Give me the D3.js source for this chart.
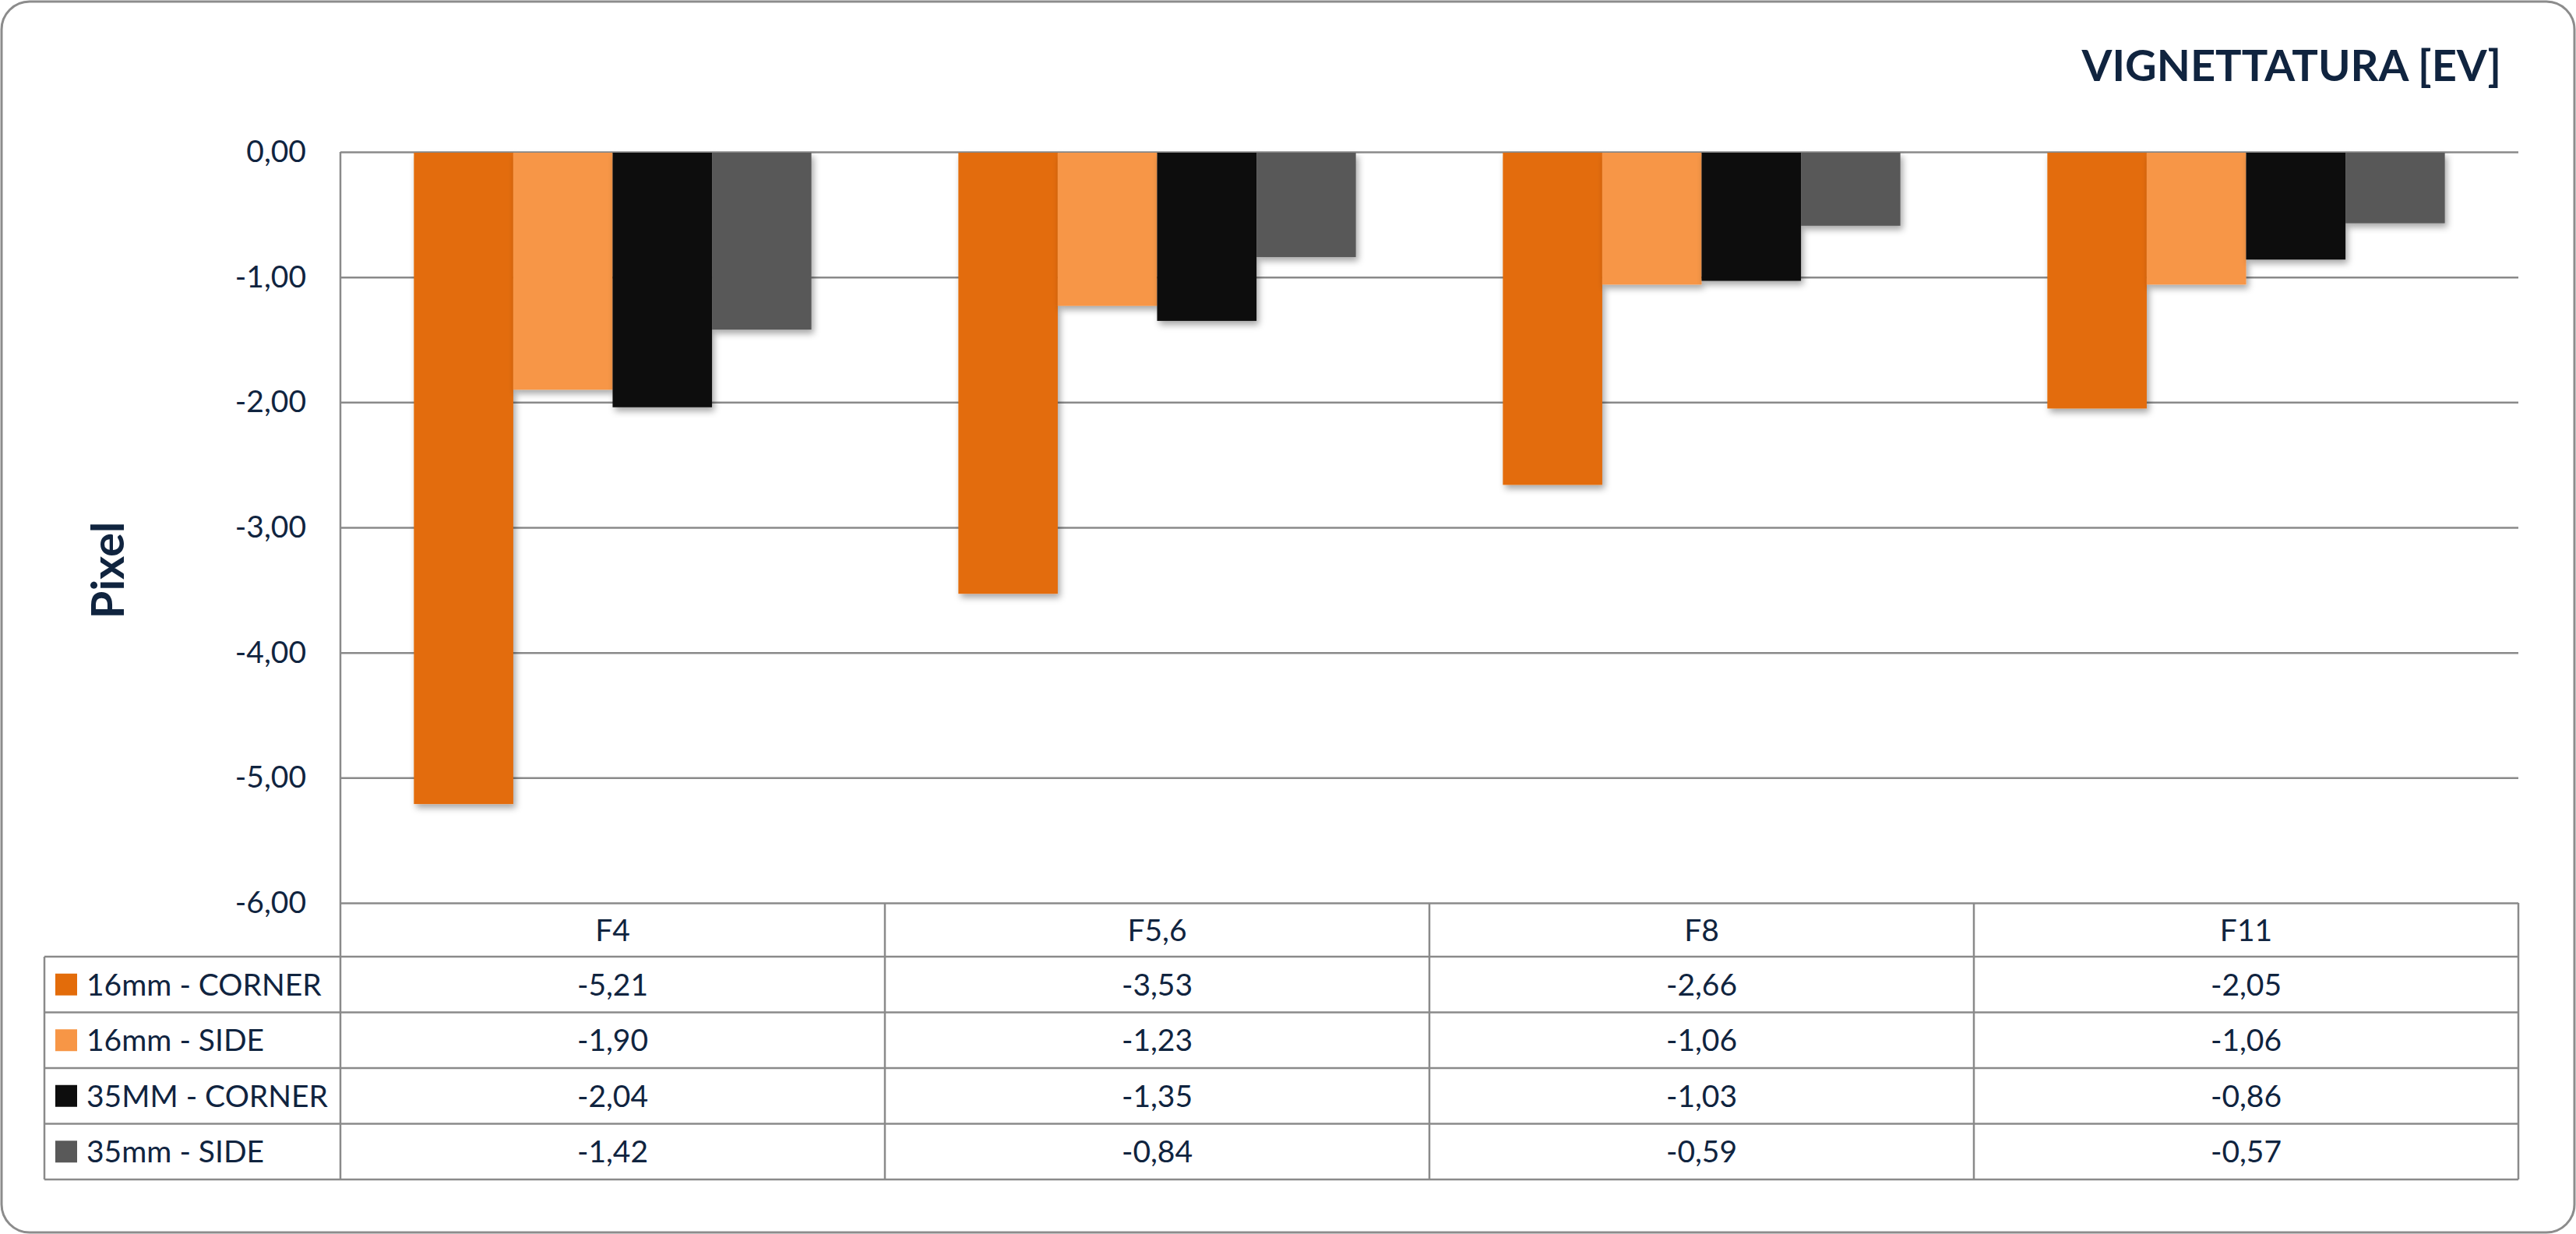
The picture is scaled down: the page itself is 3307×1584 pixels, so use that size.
<!DOCTYPE html>
<html>
<head>
<meta charset="utf-8">
<script src="https://cdn.jsdelivr.net/npm/d3@7"></script>
<style>
  html, body { margin: 0; padding: 0; background: #ffffff; }
  svg { display: block; }
  text { font-family: Lato, "Open Sans", sans-serif; fill: #10243F; }
</style>
</head>
<body>
<svg id="chart" width="3307" height="1584"></svg>
<script>
// ---- data ----
const categories = ["F4", "F5,6", "F8", "F11"];
const seriesNames = ["16mm - CORNER", "16mm - SIDE", "35MM - CORNER", "35mm - SIDE"];
const corner16 = [-5.21, -3.53, -2.66, -2.05];
const side16 = [-1.90, -1.23, -1.06, -1.06];
const corner35 = [-2.04, -1.35, -1.03, -0.86];
const side35 = [-1.42, -0.84, -0.59, -0.57];
const yTicks = [0, -1, -2, -3, -4, -5, -6];
const titleText = "VIGNETTATURA [EV]";
const yTitle = "Pixel";

const seriesValues = [corner16, side16, corner35, side35];
const colors = ["#E36C0A", "#F79646", "#0D0D0D", "#595959"];

// ---- layout ----
const W = 3307, H = 1584;
const plot = { left: 437, right: 3233, top: 195, bottom: 1159 };
const tableLeft = 57;
const headerBottom = 1228;
const rowH = 71.5;
const gridColor = "#8a8a8a";

const locale = d3.formatLocale({ decimal: ",", thousands: ".", grouping: [3], currency: ["", "€"], minus: "-" });
const fmt = locale.format(".2f");

const svg = d3.select("#chart");

const defs = svg.append("defs");
const f = defs.append("filter").attr("id", "shadow").attr("x", "-20%").attr("y", "-20%").attr("width", "150%").attr("height", "150%");
f.append("feDropShadow").attr("dx", 3).attr("dy", 5).attr("stdDeviation", 4)
  .attr("flood-color", "#000").attr("flood-opacity", 0.35);

// outer frame
svg.append("rect")
  .attr("x", 2).attr("y", 2).attr("width", W - 4).attr("height", H - 4)
  .attr("rx", 36).attr("ry", 36)
  .attr("fill", "#fff").attr("stroke", "#8c8c8c").attr("stroke-width", 3);

// scales
const x = d3.scaleBand().domain(categories).range([plot.left, plot.right])
  .paddingInner(0.27).paddingOuter(0.135);
const xs = d3.scaleBand().domain(seriesNames).range([0, x.bandwidth()]).padding(0);
const y = d3.scaleLinear().domain([-6, 0]).range([plot.bottom, plot.top]);

// gridlines
const grid = svg.append("g").attr("transform", `translate(${plot.left},0)`)
  .call(d3.axisLeft(y).tickValues(yTicks).tickSize(-(plot.right - plot.left)).tickFormat(""));
grid.select(".domain").remove();
grid.selectAll(".tick line").attr("stroke", gridColor).attr("stroke-width", 2.5);

// y labels
const yAx = svg.append("g").attr("transform", `translate(${plot.left},0)`)
  .call(d3.axisLeft(y).tickValues(yTicks).tickSize(0).tickPadding(44).tickFormat(fmt));
yAx.select(".domain").remove();
yAx.selectAll("text").style("font-family", "Lato, 'Open Sans', sans-serif")
  .attr("font-size", 39).attr("fill", "#10243F");

// bars
const groups = svg.append("g").selectAll("g").data(seriesNames).join("g")
  .attr("fill", (d, i) => colors[i]);
groups.each(function (name, si) {
  d3.select(this).selectAll("rect").data(categories).join("rect")
    .attr("x", (c) => x(c) + xs(name))
    .attr("width", xs.bandwidth())
    .attr("y", y(0) + 1)
    .attr("height", (c, ci) => y(seriesValues[si][ci]) - y(0) - 1)
    .attr("filter", "url(#shadow)");
});

// data table
const tbl = svg.append("g");
const rowsY = d3.range(seriesNames.length + 1).map(i => headerBottom + i * rowH);
const tableBottom = rowsY[rowsY.length - 1];
rowsY.forEach(yy => {
  tbl.append("line").attr("x1", tableLeft).attr("x2", plot.right)
    .attr("y1", yy).attr("y2", yy).attr("stroke", gridColor).attr("stroke-width", 2.5);
});
tbl.append("line").attr("x1", tableLeft).attr("x2", tableLeft)
  .attr("y1", headerBottom).attr("y2", tableBottom).attr("stroke", gridColor).attr("stroke-width", 2.5);
tbl.append("line").attr("x1", plot.left).attr("x2", plot.left)
  .attr("y1", plot.top).attr("y2", tableBottom).attr("stroke", gridColor).attr("stroke-width", 2.5);
categories.forEach(c => {
  const xr = x(c) + x.bandwidth() + x.step() * x.paddingInner() / 2;
  tbl.append("line").attr("x1", xr).attr("x2", xr)
    .attr("y1", plot.bottom).attr("y2", tableBottom).attr("stroke", gridColor).attr("stroke-width", 2.5);
});
tbl.selectAll("text.hdr").data(categories).join("text").attr("class", "hdr")
  .attr("x", c => x(c) + x.bandwidth() / 2)
  .attr("y", (plot.bottom + headerBottom) / 2)
  .attr("dy", "0.36em").attr("text-anchor", "middle").attr("font-size", 39)
  .text(c => c);
seriesNames.forEach((name, si) => {
  const cy = rowsY[si] + rowH / 2;
  tbl.append("rect").attr("x", 71).attr("y", cy - 14).attr("width", 28).attr("height", 28)
    .attr("fill", colors[si]);
  tbl.append("text").attr("x", 111).attr("y", cy).attr("dy", "0.36em")
    .attr("font-size", 39).text(name);
  tbl.selectAll(null).data(categories).join("text")
    .attr("x", c => x(c) + x.bandwidth() / 2)
    .attr("y", cy).attr("dy", "0.36em").attr("text-anchor", "middle").attr("font-size", 39)
    .text((c, ci) => fmt(seriesValues[si][ci]));
});

// title
svg.append("text").attr("x", 3211).attr("y", 104).attr("text-anchor", "end")
  .attr("font-size", 56).attr("font-weight", 700).text(titleText);

// y axis title
svg.append("text").attr("transform", "translate(159,732) rotate(-90)")
  .attr("text-anchor", "middle").attr("font-size", 58).attr("font-weight", 700).text(yTitle);
</script>
</body>
</html>
